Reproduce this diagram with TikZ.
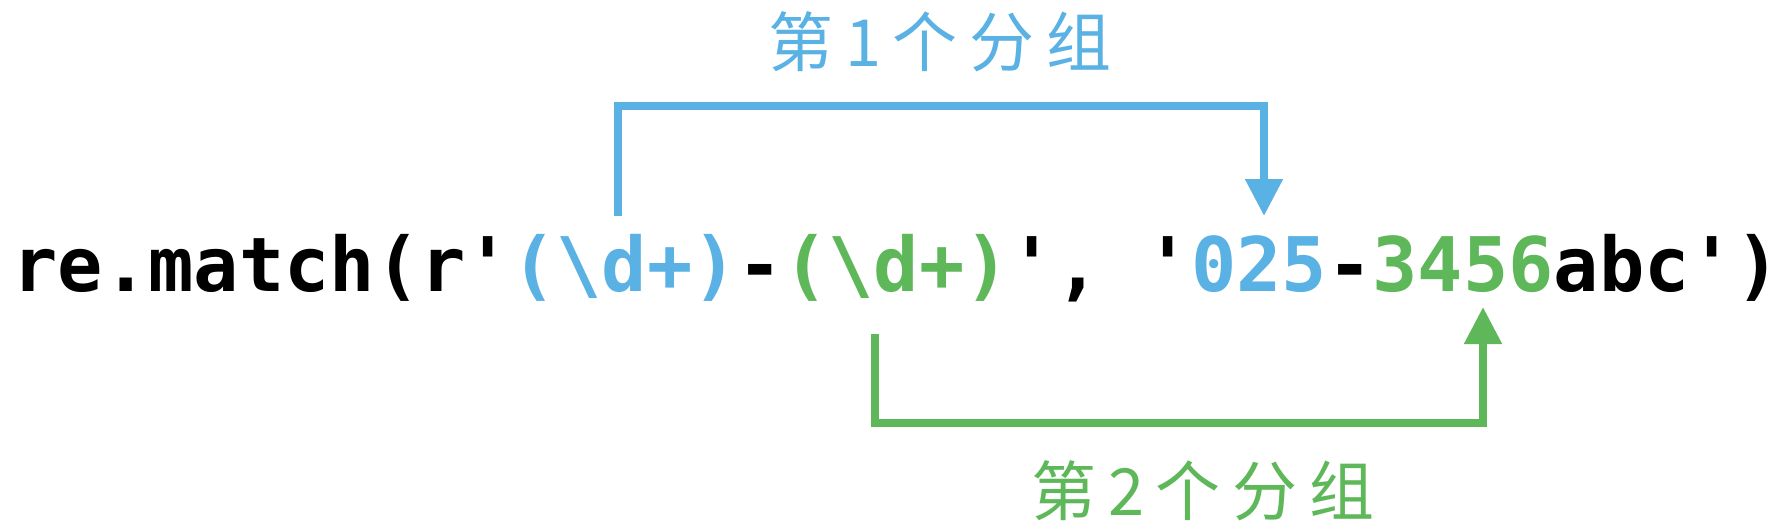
\documentclass[tikz,border=0pt]{standalone}
\usepackage{fontspec}
\usepackage{xcolor}
\usetikzlibrary{arrows.meta}
\newfontfamily\codefont{DejaVu Sans Mono}
\newfontfamily\cjkfont[LetterSpace=18]{Noto Sans CJK SC}
\definecolor{grpblue}{RGB}{90,178,228}
\definecolor{grpgreen}{RGB}{94,184,90}
\tikzset{
    codeline/.style   = {inner sep=0pt, anchor=base west, text=black,
                         font=\codefont\bfseries\fontsize{75.3}{77}\selectfont},
    grouplabel/.style = {inner sep=0pt, font=\cjkfont\fontsize{65}{67}\selectfont},
    bracket/.style    = {line width=8pt},
    link/.style       = {bracket, -{Triangle[length=37pt, width=36pt]}}
}

\begin{document}
\begin{tikzpicture}[x=1pt, y=-1pt]
    \useasboundingbox[fill=white] (0,0) rectangle (1782,530);

    % --- Aufruf ---
    \node[codeline] (code) at (12.3,291)
        {re.match(r\textquotesingle\textcolor{grpblue}{(\textbackslash d+)}-\textcolor{grpgreen}{(\textbackslash d+)}\textquotesingle, \textquotesingle\textcolor{grpblue}{025}-\textcolor{grpgreen}{3456}abc\textquotesingle)};

    % --- Gruppe 1 ---
    \coordinate (g1a) at (617.5,216);
    \coordinate (g1b) at (1264,216);
    \draw[link, grpblue] (g1a) -- ++(0,-110) -| (g1b);
    \node[grouplabel, text=grpblue] (lab1) at (940,42) {第1个分组};

    % --- Gruppe 2 ---
    \coordinate (g2a) at (875,334);
    \coordinate (g2b) at (1483,307);
    \draw[link, grpgreen] (g2a) -- ++(0,89) -| (g2b);
    \node[grouplabel, text=grpgreen] (lab2) at (1203,491) {第2个分组};
\end{tikzpicture}
\end{document}
